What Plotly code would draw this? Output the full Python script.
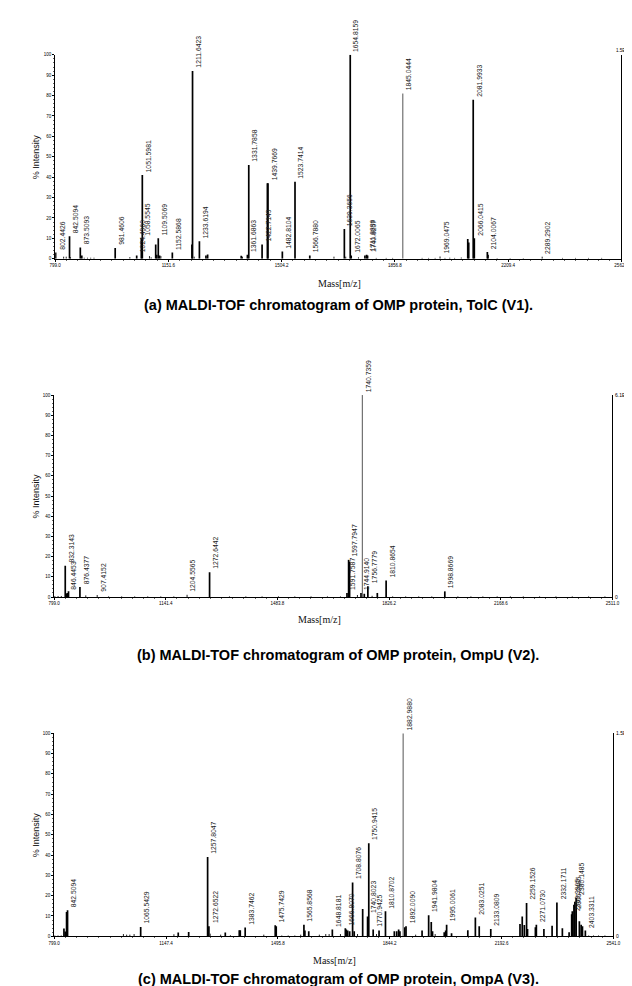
import plotly.graph_objects as go

W, H = 632, 986

# ---------------- Panel (a): TolC (V1) ----------------
A_MZ = [800.5, 825.5, 833.5, 843.8, 847.0, 877.4, 882.0, 889.6, 899.7, 909.7, 920.0,
        986.0, 1031.7, 1053.0, 1067.4, 1070.5, 1092.8, 1098.0, 1112.2, 1115.3, 1120.2,
        1124.3, 1128.4, 1164.0, 1225.0, 1226.9, 1232.0, 1248.3, 1268.7, 1273.9, 1378.5,
        1382.5, 1397.8, 1402.0, 1443.5, 1460.0, 1461.8, 1506.6, 1546.0, 1592.0, 1667.3,
        1699.7, 1704.0, 1718.0, 1721.0, 1743.6, 1763.8, 1769.0, 1772.0, 1799.0, 1830.0,
        1850.0, 1881.8, 1941.8, 1962.0, 1982.4, 1997.7, 2013.0, 2028.0, 2043.0, 2063.8,
        2084.0, 2087.0, 2101.0, 2104.4, 2145.0, 2147.0, 2175.5, 2216.0, 2257.0, 2315.8,
        2379.0, 2419.5, 2460.0, 2501.0]
A_INT = [3.0, 1.0, 1.0, 11.0, 0.8, 5.5, 1.6, 0.5, 0.5, 0.5, 0.5,
         5.2, 0.8, 1.6, 10.0, 41.0, 1.3, 0.7, 7.0, 2.0, 10.0,
         1.6, 1.3, 3.0, 7.0, 92.0, 1.0, 8.6, 1.6, 2.1, 1.5,
         1.0, 2.0, 46.0, 7.0, 37.0, 37.0, 3.6, 37.7, 1.6, 1.0,
         14.6, 1.0, 100.0, 1.6, 0.7, 1.6, 2.0, 1.6, 0.4, 0.4,
         0.4, 81.0, 0.4, 0.4, 0.4, 1.1, 0.4, 0.5, 0.4, 0.6,
         9.7, 8.0, 78.0, 10.0, 3.3, 2.0, 0.3, 0.3, 0.3, 1.0,
         0.4, 0.4, 0.4, 0.4]
A_LABEL = ["802.4426", "", "", "842.5094", "", "873.5093", "", "", "", "", "",
           "981.4606", "", "1024.4960", "1058.5545", "1051.5981", "", "", "", "", "1109.5069",
           "", "", "1152.5868", "", "1211.6423", "", "1233.6194", "", "", "",
           "", "1361.6863", "1331.7858", "1422.7149", "", "1439.7669", "1482.8104", "1523.7414", "1566.7880", "",
           "1639.3656", "", "1654.8159", "1672.0065", "", "", "1711.8836", "1740.8257", "", "",
           "", "1845.0444", "", "", "", "1969.0475", "", "", "", "",
           "", "", "2081.9933", "2066.0415", "2104.0067", "", "", "", "", "2289.2902",
           "", "", "", ""]
A_TICKS = [799.0, 1151.6, 1504.2, 1856.8, 2209.4, 2562.0]
A_SCALE = "1.5E+4"
A_CAPTION = "(a) MALDI-TOF chromatogram of OMP protein, TolC (V1)."

# ---------------- Panel (b): OmpU (V2) ----------------
B_MZ = [801.0, 811.0, 821.0, 833.0, 836.0, 839.0, 843.0, 878.0, 896.0, 931.0,
        966.0, 1006.0, 1046.0, 1086.0, 1126.0, 1166.0, 1206.6, 1275.6,
        1336.6, 1386.8, 1436.6, 1486.8, 1537.0, 1586.8, 1637.0, 1677.0,
        1697.0, 1702.0, 1705.0, 1729.0, 1740.0, 1744.0, 1750.0, 1761.0, 1774.0, 1790.0,
        1817.0, 1837.0, 1877.0, 1917.0, 1957.0, 1997.0, 2037.0, 2077.0, 2113.6, 2157.5,
        2198.0, 2237.6, 2287.6, 2337.7, 2387.8, 2438.0, 2488.0]
B_INT = [0.5, 0.5, 0.5, 15.5, 1.6, 2.0, 2.8, 5.0, 0.8, 1.0,
         0.3, 0.3, 0.3, 0.3, 0.3, 0.3, 1.1, 12.3,
         0.3, 0.3, 0.3, 0.3, 0.3, 0.3, 0.3, 0.3,
         2.0, 18.4, 17.5, 1.0, 2.0, 100.0, 1.6, 5.3, 0.6, 2.0,
         8.2, 0.3, 0.3, 0.3, 0.3, 2.8, 0.3, 0.3, 0.3, 0.3,
         0.3, 0.3, 0.3, 0.3, 0.3, 0.3, 0.3]
B_LABEL = ["", "", "", "832.3143", "", "846.4453", "", "876.4377", "", "907.4152",
           "", "", "", "", "", "", "1204.5565", "1272.6442",
           "", "", "", "", "", "", "", "",
           "1591.7587", "1597.7947", "", "", "1744.9140", "1740.7359", "", "1756.7779", "", "",
           "1810.8654", "", "", "", "", "1998.8669", "", "", "", "",
           "", "", "", "", "", "", ""]
B_TICKS = [799.0, 1141.4, 1483.8, 1826.2, 2168.6, 2511.0]
B_SCALE = "6.1E+4"
B_CAPTION = "(b) MALDI-TOF chromatogram of OMP protein, OmpU (V2)."

# ---------------- Panel (c): OmpA (V3) ----------------
C_MZ = [801.0, 811.0, 821.0, 829.5, 833.5, 837.7, 840.7, 1014.7, 1024.8, 1034.8, 1048.0,
        1068.5, 1172.0, 1185.5, 1218.0, 1277.0, 1281.0, 1285.0, 1317.7, 1332.0, 1348.0,
        1375.6, 1378.7, 1394.0, 1452.0, 1487.6, 1490.7, 1508.0, 1528.0, 1548.6, 1567.0,
        1577.0, 1580.0, 1592.0, 1625.0, 1645.0, 1655.5, 1665.5, 1690.8, 1706.0, 1709.0,
        1713.4, 1719.5, 1728.6, 1733.6, 1744.0, 1760.0, 1775.3, 1779.0, 1792.7, 1803.0,
        1811.0, 1831.0, 1858.6, 1866.0, 1872.0, 1876.0, 1886.0, 1891.0, 1895.0, 1925.0,
        1945.0, 1965.5, 1973.6, 1977.6, 1985.8, 2014.0, 2018.5, 2021.5, 2036.8, 2087.5,
        2111.0, 2123.0, 2159.0, 2250.0, 2257.0, 2263.5, 2270.5, 2273.5, 2298.0, 2301.0,
        2324.5, 2350.0, 2365.0, 2382.0, 2403.0, 2411.0, 2413.0, 2418.0, 2421.0, 2425.0,
        2435.0, 2440.5, 2444.6, 2453.6, 2464.0, 2479.0, 2494.5, 2514.5]
C_INT = [0.4, 0.4, 0.4, 3.8, 2.4, 12.0, 12.8, 1.1, 0.8, 0.8, 1.1,
         4.6, 1.0, 1.8, 2.1, 39.0, 5.0, 1.3, 0.8, 1.8, 0.5,
         3.0, 3.0, 4.3, 0.8, 5.4, 5.0, 0.4, 0.4, 0.4, 0.8,
         5.7, 2.8, 2.5, 0.8, 1.1, 1.1, 3.3, 1.1, 4.0, 3.3,
         2.8, 2.5, 26.5, 2.5, 1.1, 13.4, 9.8, 45.8, 3.3, 1.1,
         2.8, 12.3, 2.5, 2.5, 3.3, 2.5, 100.0, 4.4, 5.0, 0.8,
         2.8, 10.3, 7.0, 2.5, 1.1, 2.0, 2.8, 5.7, 1.5, 3.0,
         9.3, 5.0, 3.6, 6.0, 9.8, 5.5, 16.4, 3.6, 4.4, 5.7,
         3.6, 5.2, 16.7, 4.0, 2.0, 10.8, 12.3, 15.5, 17.0, 19.0,
         7.4, 5.7, 5.0, 2.8, 0.4, 0.4, 0.4, 0.4]
C_LABEL = ["", "", "", "", "", "", "842.5094", "", "", "", "",
           "1065.5429", "", "", "", "1257.8047", "1272.6522", "", "", "", "",
           "", "", "1383.7462", "", "1475.7429", "", "", "", "", "",
           "1565.8568", "", "", "", "", "", "1648.8181", "", "1666.8070", "",
           "", "", "1708.8076", "", "", "", "1740.8023", "1750.9415", "1770.9425", "",
           "", "1810.8702", "", "", "", "", "1882.9880", "", "1892.0090", "",
           "", "1941.9804", "", "", "", "", "", "1995.0061", "", "",
           "2083.0251", "", "2133.0809", "", "", "", "2259.1526", "", "", "2271.0730",
           "", "", "2332.1711", "", "", "2363.9905", "2365.2485", "", "", "2380.1485",
           "", "", "", "2403.3311", "", "", "", ""]
C_TICKS = [799.0, 1147.4, 1495.8, 1844.2, 2192.6, 2541.0]
C_SCALE = "1.5E+3"
C_CAPTION = "(c) MALDI-TOF chromatogram of OMP protein, OmpA (V3)."

Y_TICKS = [0, 10, 20, 30, 40, 50, 60, 70, 80, 90, 100]

# ---------------- styling (pixel geometry) ----------------
BOXES = [(42, 620, 45, 250), (41, 611, 387, 590), (41, 612, 727, 931)]
XTITLE_POS = [(332, 275), (312, 613), (327, 955)]
CAPTION_Y = [297, 648, 974]
THIN = {"1845.0444", "1740.7359", "1882.9880"}
FONT = "Liberation Sans, Arial, sans-serif"

panels = [
    (A_MZ, A_INT, A_LABEL, A_TICKS, A_SCALE, A_CAPTION),
    (B_MZ, B_INT, B_LABEL, B_TICKS, B_SCALE, B_CAPTION),
    (C_MZ, C_INT, C_LABEL, C_TICKS, C_SCALE, C_CAPTION),
]


def px(x):
    return x / W


def py(y):
    return 1 - y / H


fig = go.Figure()
annotations = []
layout_axes = {}

for i, (mz, inten, labels, ticks, scale, caption) in enumerate(panels):
    n = i + 1
    xa = "x" if n == 1 else f"x{n}"
    ya = "y" if n == 1 else f"y{n}"
    x0, x1, y0, y1 = BOXES[i]

    groups = {"thick": ([], []), "thin": ([], []), "small": ([], [])}
    for m, v, lab in zip(mz, inten, labels):
        if lab in THIN:
            g = "thin"
        elif v < 1.5:
            g = "small"
        else:
            g = "thick"
        groups[g][0].extend([m, m, None])
        groups[g][1].extend([0, v, None])
    styles = {"thick": ("#000000", 1.7), "thin": ("#555555", 1.0), "small": ("#222222", 1.0)}
    for g, (xs, ys) in groups.items():
        if not xs:
            continue
        col, w = styles[g]
        fig.add_trace(go.Scatter(x=xs, y=ys, mode="lines", xaxis=xa, yaxis=ya,
                                 line=dict(color=col, width=w), hoverinfo="skip",
                                 showlegend=False))

    for m, v, lab in zip(mz, inten, labels):
        if not lab:
            continue
        annotations.append(dict(x=m, y=v, xref=xa, yref=ya, text=lab, textangle=-90,
                                showarrow=False, xanchor="left", yanchor="bottom",
                                xshift=1.5, yshift=2, borderpad=0,
                                font=dict(family=FONT, size=6.8, color="#222222")))

    suffix = "" if n == 1 else str(n)
    step = (ticks[-1] - ticks[0]) / 5
    layout_axes["xaxis" + suffix] = dict(
        domain=[px(x0), px(x1)], anchor=ya, range=[ticks[0], ticks[-1]],
        tickmode="array", tickvals=ticks, ticktext=[f"{t:.1f}" for t in ticks],
        showline=True, linecolor="#000", linewidth=1, ticks="outside", ticklen=2,
        tickcolor="#000", tickfont=dict(family=FONT, size=4.5, color="#000"),
        showgrid=False, zeroline=False,
        minor=dict(ticks="outside", ticklen=1, tick0=ticks[0], dtick=step / 10,
                   tickcolor="#666"))
    layout_axes["yaxis" + suffix] = dict(
        domain=[py(y1), py(y0)], anchor=xa, range=[0, 100],
        tickmode="array", tickvals=Y_TICKS, ticktext=[str(t) for t in Y_TICKS],
        showline=True, linecolor="#000", linewidth=1, mirror=True,
        ticks="outside", ticklen=2, tickcolor="#000",
        tickfont=dict(family=FONT, size=4.5, color="#000"),
        showgrid=False, zeroline=False,
        minor=dict(ticks="outside", ticklen=1, dtick=2, tickcolor="#666"))

    # right-hand scale labels (kept inside the page)
    if x1 + 20 > W:
        annotations.append(dict(x=px(W - 1), y=py(y0 - 1), xref="paper", yref="paper",
                                text=scale, showarrow=False, xanchor="right",
                                yanchor="bottom", borderpad=0,
                                font=dict(family=FONT, size=4.5, color="#000")))
    else:
        annotations.append(dict(x=px(x1 + 2), y=py(y0), xref="paper", yref="paper",
                                text=scale, showarrow=False, xanchor="left",
                                yanchor="middle", borderpad=0,
                                font=dict(family=FONT, size=5, color="#000")))
    annotations.append(dict(x=px(x1 + 2), y=py(y1), xref="paper", yref="paper",
                            text="0", showarrow=False, xanchor="left",
                            yanchor="middle", borderpad=0,
                            font=dict(family=FONT, size=5, color="#000")))
    annotations.append(dict(x=px(22), y=py((y0 + y1) / 2), xref="paper", yref="paper",
                            text="% Intensity", textangle=-90, showarrow=False,
                            xanchor="center", yanchor="middle",
                            font=dict(family=FONT, size=9, color="#111")))
    tx, ty = XTITLE_POS[i]
    annotations.append(dict(x=px(tx), y=py(ty), xref="paper", yref="paper",
                            text="Mass[m/z]", showarrow=False,
                            xanchor="center", yanchor="middle",
                            font=dict(family="Liberation Serif, serif", size=10, color="#111")))
    annotations.append(dict(x=px(331), y=py(CAPTION_Y[i]), xref="paper", yref="paper",
                            text=f"<b>{caption}</b>", showarrow=False,
                            xanchor="center", yanchor="middle",
                            font=dict(family=FONT, size=14.5, color="#000")))

fig.update_layout(width=W, height=H, margin=dict(l=0, r=0, t=0, b=0),
                  paper_bgcolor="white", plot_bgcolor="white", showlegend=False,
                  annotations=annotations, **layout_axes)

fig.write_html("out.html")
